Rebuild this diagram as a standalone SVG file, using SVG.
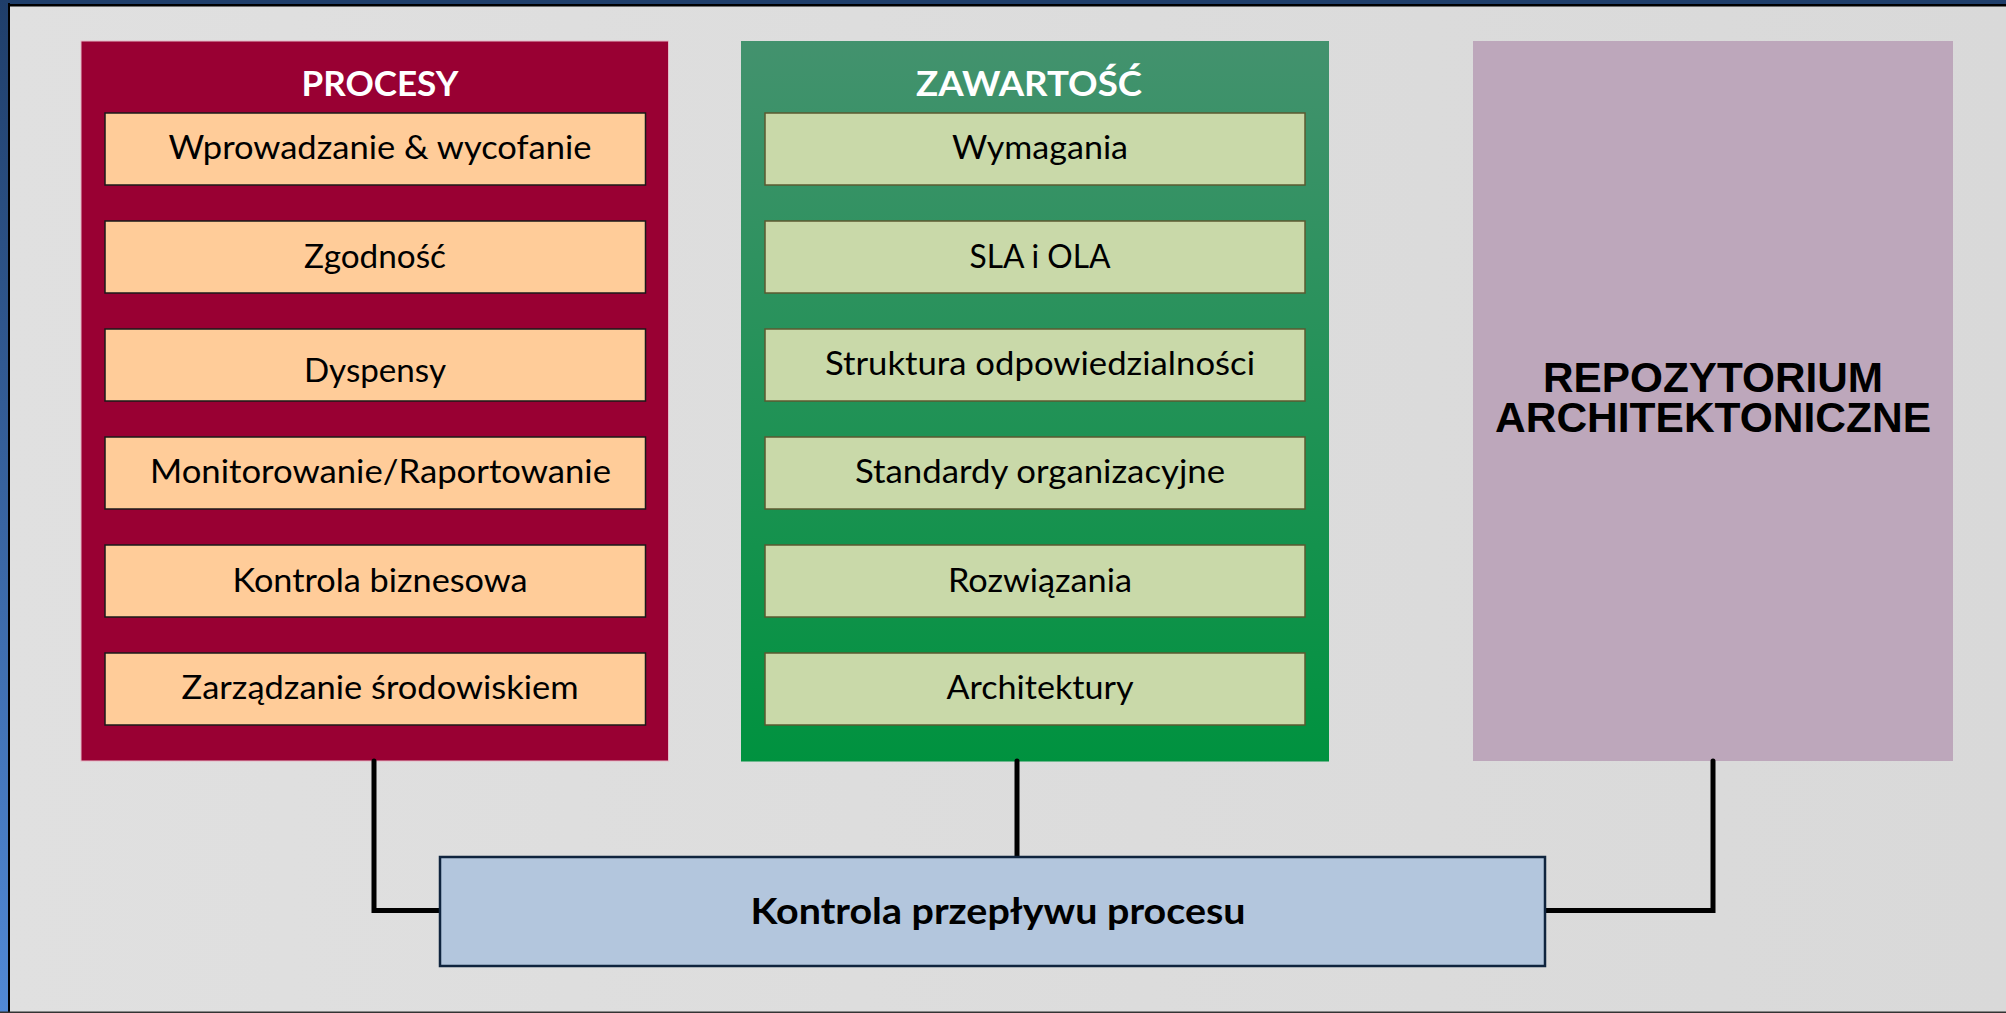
<svg xmlns="http://www.w3.org/2000/svg" width="2006" height="1013" viewBox="0 0 2006 1013">
<defs>
<linearGradient id="bgGrad" x1="0" y1="0" x2="1" y2="0">
<stop offset="0" stop-color="#E0E0E0"/>
<stop offset="1" stop-color="#D9D9D9"/>
</linearGradient>
<linearGradient id="leftBar" x1="0" y1="0" x2="0" y2="1">
<stop offset="0" stop-color="#1F3E6A"/>
<stop offset="1" stop-color="#5189D6"/>
</linearGradient>
<linearGradient id="greenGrad" x1="0" y1="0" x2="0" y2="1">
<stop offset="0" stop-color="#43926E"/>
<stop offset="1" stop-color="#00923F"/>
</linearGradient>
<style>
.item { font-family: Lato, "Open Sans", "Liberation Sans", sans-serif; font-size: 32px; fill: #000; text-anchor: middle; }
.title { font-family: Lato, "Open Sans", "Liberation Sans", sans-serif; font-size: 35px; font-weight: bold; fill: #FFF; text-anchor: middle; }
.orange { fill: #FFCC99; stroke: #1A1A1A; stroke-width: 1.5; }
.lgreen { fill: #C9D9A9; stroke: #5B5A30; stroke-width: 1.5; }
.conn { fill: none; stroke: #000; stroke-width: 5; stroke-linecap: round; stroke-linejoin: miter; }
.repo { font-family: "Liberation Sans", Arial, sans-serif; font-size: 42px; font-weight: bold; fill: #000; text-anchor: middle; }
.flow { font-family: Lato, "Open Sans", "Liberation Sans", sans-serif; font-size: 37px; font-weight: bold; fill: #000; text-anchor: middle; }
</style>
</defs>
<g id="frame">
<rect x="0" y="0" width="2006" height="1013" fill="url(#bgGrad)"/>
<rect x="0" y="0" width="2006" height="4" fill="#1F3E6A"/>
<rect x="0" y="4" width="2006" height="2.5" fill="#000"/>
<rect x="0" y="0" width="8" height="1013" fill="url(#leftBar)"/>
<rect x="8" y="3" width="2" height="1010" fill="#000"/>
<rect x="0" y="1011.5" width="2006" height="1.5" fill="#333"/>
</g>
<g id="procesy">
<rect x="81" y="41" width="587.5" height="720" fill="#990033" stroke="#E6B8C6" stroke-width="1"/>
<text class="title" x="380" y="96" textLength="157" lengthAdjust="spacingAndGlyphs">PROCESY</text>
<g id="p1"><rect class="orange" x="105" y="113" width="540.5" height="72"/><text class="item" x="380" y="159" textLength="423" lengthAdjust="spacingAndGlyphs">Wprowadzanie &amp; wycofanie</text></g>
<g id="p2"><rect class="orange" x="105" y="221" width="540.5" height="72"/><text class="item" x="375" y="268" textLength="142" lengthAdjust="spacingAndGlyphs">Zgodność</text></g>
<g id="p3"><rect class="orange" x="105" y="329" width="540.5" height="72"/><text class="item" x="375" y="381.5" textLength="142" lengthAdjust="spacingAndGlyphs">Dyspensy</text></g>
<g id="p4"><rect class="orange" x="105" y="437" width="540.5" height="72"/><text class="item" x="380.5" y="483" textLength="461" lengthAdjust="spacingAndGlyphs">Monitorowanie/Raportowanie</text></g>
<g id="p5"><rect class="orange" x="105" y="545" width="540.5" height="72"/><text class="item" x="380" y="591.5" textLength="295" lengthAdjust="spacingAndGlyphs">Kontrola biznesowa</text></g>
<g id="p6"><rect class="orange" x="105" y="653" width="540.5" height="72"/><text class="item" x="380" y="699" textLength="397" lengthAdjust="spacingAndGlyphs">Zarządzanie środowiskiem</text></g>
</g>
<g id="zawartosc">
<rect x="741" y="41" width="588" height="720.5" fill="url(#greenGrad)"/>
<text class="title" x="1029" y="96" textLength="226" lengthAdjust="spacingAndGlyphs">ZAWARTOŚĆ</text>
<g id="z1"><rect class="lgreen" x="765" y="113" width="540" height="72"/><text class="item" x="1040" y="159" textLength="176" lengthAdjust="spacingAndGlyphs">Wymagania</text></g>
<g id="z2"><rect class="lgreen" x="765" y="221" width="540" height="72"/><text class="item" x="1040" y="267.5" textLength="141" lengthAdjust="spacingAndGlyphs">SLA i OLA</text></g>
<g id="z3"><rect class="lgreen" x="765" y="329" width="540" height="72"/><text class="item" x="1040" y="375" textLength="430" lengthAdjust="spacingAndGlyphs">Struktura odpowiedzialności</text></g>
<g id="z4"><rect class="lgreen" x="765" y="437" width="540" height="72"/><text class="item" x="1040" y="483" textLength="370" lengthAdjust="spacingAndGlyphs">Standardy organizacyjne</text></g>
<g id="z5"><rect class="lgreen" x="765" y="545" width="540" height="72"/><text class="item" x="1040" y="591.5" textLength="184" lengthAdjust="spacingAndGlyphs">Rozwiązania</text></g>
<g id="z6"><rect class="lgreen" x="765" y="653" width="540" height="72"/><text class="item" x="1040" y="699" textLength="187" lengthAdjust="spacingAndGlyphs">Architektury</text></g>
</g>
<g id="repozytorium">
<rect x="1473" y="41" width="480" height="720" fill="#BDA7BB"/>
<text class="repo" x="1713" y="392" textLength="340" lengthAdjust="spacingAndGlyphs">REPOZYTORIUM</text>
<text class="repo" x="1713" y="432" textLength="436" lengthAdjust="spacingAndGlyphs">ARCHITEKTONICZNE</text>
</g>
<g id="connectors">
<path class="conn" d="M374 761 V910.5 H440"/>
<path class="conn" d="M1017 761 V857"/>
<path class="conn" d="M1713 761 V910.5 H1545"/>
</g>
<g id="kontrola">
<rect x="440" y="857" width="1105" height="109" fill="#B3C6DD" stroke="#0F243E" stroke-width="2.5"/>
<text class="flow" x="998" y="924" textLength="495" lengthAdjust="spacingAndGlyphs">Kontrola przepływu procesu</text>
</g>
</svg>
